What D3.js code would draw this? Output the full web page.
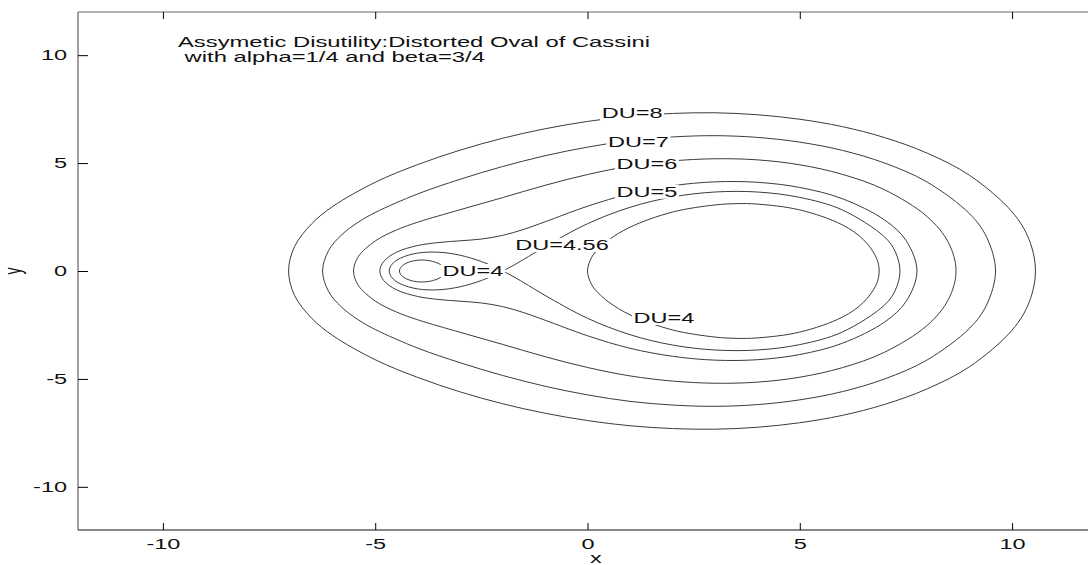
<!DOCTYPE html>
<html>
<head>
<meta charset="utf-8">
<script src="https://cdn.jsdelivr.net/npm/d3@7"></script>
<style>
    body { margin: 0; background: #fff; }
    svg text { font-family: "Liberation Sans", Arial, Helvetica, sans-serif; font-size: 14px; fill: #111; }
</style>
</head>
<body>
<svg id="chart" width="1088" height="565"></svg>
<script>
// contour points, [x, y], each loop closed
const du8 = [[-7.04, 0], [-6.9, 1.13], [-6.5, 2.18], [-6, 2.99], [-5, 4.11], [-4, 4.93], [-3, 5.6], [-2, 6.15], [-1, 6.59],
    [0, 6.93], [1, 7.17], [2, 7.3], [3, 7.33], [4, 7.24], [5, 7.03], [6, 6.69], [7, 6.18], [8, 5.46], [9, 4.43], [10, 2.74],
    [10.4, 1.46], [10.55, 0], [10.4, -1.46], [10, -2.74], [9, -4.43], [8, -5.46], [7, -6.18], [6, -6.69], [5, -7.03],
    [4, -7.24], [3, -7.33], [2, -7.3], [1, -7.17], [0, -6.93], [-1, -6.59], [-2, -6.15], [-3, -5.6], [-4, -4.93],
    [-5, -4.11], [-6, -2.99], [-6.5, -2.18], [-6.9, -1.13]];

const du7 = [[-6.24, 0], [-6.1, 0.94], [-5.8, 1.66], [-5.4, 2.26], [-5, 2.71], [-4, 3.57], [-3, 4.25], [-2, 4.84], [-1, 5.34],
    [0, 5.74], [1, 6.04], [2, 6.21], [3, 6.27], [4, 6.19], [5, 5.97], [6, 5.59], [7, 5.0], [8, 4.12], [9, 2.65], [9.4, 1.57],
    [9.61, 0], [9.4, -1.57], [9, -2.65], [8, -4.12], [7, -5.0], [6, -5.59], [5, -5.97], [4, -6.19], [3, -6.27], [2, -6.21],
    [1, -6.04], [0, -5.74], [-1, -5.34], [-2, -4.84], [-3, -4.25], [-4, -3.57], [-5, -2.71], [-5.4, -2.26], [-5.8, -1.66],
    [-6.1, -0.94]];

const du6 = [[-5.51, 0], [-5.4, 0.66], [-5, 1.39], [-4.5, 1.9], [-4, 2.26], [-3, 2.84], [-2, 3.4], [-1, 3.97], [0, 4.47],
    [1, 4.86], [2, 5.1], [3, 5.2], [4, 5.15], [5, 4.92], [6, 4.48], [7, 3.76], [8, 2.52], [8.5, 1.32], [8.68, 0],
    [8.5, -1.32], [8, -2.52], [7, -3.76], [6, -4.48], [5, -4.92], [4, -5.15], [3, -5.2], [2, -5.1], [1, -4.86], [0, -4.47],
    [-1, -3.97], [-2, -3.4], [-3, -2.84], [-4, -2.26], [-4.5, -1.9], [-5, -1.39], [-5.4, -0.66]];

const du5 = [[-4.89, 0], [-4.8, 0.44], [-4.5, 0.87], [-4, 1.18], [-3.5, 1.32], [-3, 1.4], [-2.5, 1.48], [-2, 1.65],
    [-1.5, 1.93], [-1, 2.28], [0, 3.0], [1, 3.58], [2, 3.95], [3, 4.13], [4, 4.11], [5, 3.87], [6, 3.35], [7, 2.36],
    [7.5, 1.42], [7.76, 0], [7.5, -1.42], [7, -2.36], [6, -3.35], [5, -3.87], [4, -4.11], [3, -4.13], [2, -3.95],
    [1, -3.58], [0, -3.0], [-1, -2.28], [-1.5, -1.93], [-2, -1.65], [-2.5, -1.48], [-3, -1.4], [-3.5, -1.32], [-4, -1.18],
    [-4.5, -0.87], [-4.8, -0.44]];

// figure eight through the saddle at (-2, 0)
const du456 = [[-2, 0], [-2.2, 0.19], [-2.5, 0.44], [-3, 0.73], [-3.5, 0.87], [-4, 0.83], [-4.4, 0.6], [-4.6, 0.32],
    [-4.67, 0], [-4.6, -0.32], [-4.4, -0.6], [-4, -0.83], [-3.5, -0.87], [-3, -0.73], [-2.5, -0.44], [-2.2, -0.19],
    [-2, 0], [-1.8, 0.2], [-1.5, 0.54], [-1, 1.13], [0, 2.19], [1, 2.95], [2, 3.43], [3, 3.66], [4, 3.66], [5, 3.41],
    [6, 2.83], [7, 1.57], [7.25, 0.89], [7.36, 0], [7.25, -0.89], [7, -1.57], [6, -2.83], [5, -3.41], [4, -3.66],
    [3, -3.66], [2, -3.43], [1, -2.95], [0, -2.19], [-1, -1.13], [-1.5, -0.54], [-1.8, -0.2]];

const du4Big = [[0, 0], [0.1, 0.64], [0.25, 1.01], [0.5, 1.44], [1, 2.03], [2, 2.73], [3, 3.06], [3.5, 3.12], [4, 3.1],
    [5, 2.83], [6, 2.14], [6.5, 1.45], [6.8, 0.63], [6.87, 0], [6.8, -0.63], [6.5, -1.45], [6, -2.14], [5, -2.83],
    [4, -3.1], [3.5, -3.12], [3, -3.06], [2, -2.73], [1, -2.03], [0.5, -1.44], [0.25, -1.01], [0.1, -0.64]];

const du4Small = [[-4.43, 0], [-4.4, 0.16], [-4.3, 0.33], [-4.1, 0.47], [-3.9, 0.51], [-3.7, 0.47], [-3.5, 0.34],
    [-3.4, 0.2], [-3.36, 0], [-3.4, -0.2], [-3.5, -0.34], [-3.7, -0.47], [-3.9, -0.51], [-4.1, -0.47], [-4.3, -0.33],
    [-4.4, -0.16]];

const contours = [du8, du7, du6, du5, du456, du4Big, du4Small];

const labelText = ['DU=8', 'DU=7', 'DU=6', 'DU=5', 'DU=4.56', 'DU=4', 'DU=4'];
const labelX = [1.05, 1.2, 1.4, 1.4, -0.6, -2.7, 1.8];
const labelY = [7.3, 6.0, 4.95, 3.67, 1.2, 0.0, -2.18];

const xTicks = [-10, -5, 0, 5, 10];
const yTicks = [-10, -5, 0, 5, 10];
const titleLines = ['Assymetic Disutility:Distorted Oval of Cassini', ' with alpha=1/4 and beta=3/4'];

/***************************************************************************
 * Chart
 **************************************************************************/

const sx = 1.68; // the scanned figure is stretched sideways, text too

const svg = d3.select('#chart');

const x = d3.scaleLinear().domain([-12, 12]).range([78, 1097]);
const y = d3.scaleLinear().domain([-12, 12]).range([530, 12]);

const line = d3.line()
    .curve(d3.curveCatmullRomClosed.alpha(0.5))
    .x((d) => { return x(d[0]) })
    .y((d) => { return y(d[1]) });

svg.append('g')
    .selectAll('path')
    .data(contours)
    .enter()
.append('path')
    .attr('d', (d) => { return line(d) })
    .attr('fill', 'none')
    .attr('stroke', '#3c3c3c')
    .attr('stroke-width', 1);

// inline labels break the lines
const labels = svg.append('g')
    .selectAll('g')
    .data(labelText.map((t, i) => { return {text: t, x: labelX[i], y: labelY[i]} }))
    .enter()
.append('g')
    .attr('transform', (d) => {
        return 'translate(' + x(d.x) + ',' + y(d.y) + ') scale(' + sx + ',1)';
    });

labels.append('text')
    .attr('text-anchor', 'middle')
    .attr('dy', '0.36em')
    .text((d) => { return d.text });

labels.insert('rect', 'text')
    .each(function () {
        const b = this.parentNode.querySelector('text').getBBox();
        d3.select(this)
            .attr('x', b.x - 1)
            .attr('y', b.y + 1)
            .attr('width', b.width + 2)
            .attr('height', b.height - 2)
            .attr('fill', '#fff');
    });

// frame: left and bottom dark, top lighter as in the print
svg.append('line')
    .attr('x1', x(-12)).attr('x2', x(12))
    .attr('y1', y(12)).attr('y2', y(12))
    .attr('stroke', '#666');

svg.append('line')
    .attr('x1', x(-12)).attr('x2', x(-12))
    .attr('y1', y(12)).attr('y2', y(-12))
    .attr('stroke', '#444');

svg.append('line')
    .attr('x1', x(-12)).attr('x2', x(12))
    .attr('y1', y(-12)).attr('y2', y(-12))
    .attr('stroke', '#111');

const xAxis = d3.axisBottom(x)
    .tickValues(xTicks)
    .tickFormat((d) => { return String(d) })
    .tickSizeInner(-7)
    .tickSizeOuter(0)
    .tickPadding(9);

svg.append('g')
    .attr('transform', 'translate(0,' + y(-12) + ')')
    .call(xAxis)
    .call((g) => { g.select('.domain').remove() })
    .call((g) => { g.selectAll('text').attr('transform', 'scale(' + sx + ',1)') });

svg.append('g')
    .attr('transform', 'translate(0,' + y(12) + ')')
    .call(d3.axisTop(x).tickValues(xTicks).tickSizeInner(-7).tickSizeOuter(0).tickFormat(''))
    .call((g) => { g.select('.domain').remove() });

const yAxis = d3.axisLeft(y)
    .tickValues(yTicks)
    .tickFormat((d) => { return String(d) })
    .tickSizeInner(-10)
    .tickSizeOuter(0)
    .tickPadding(6.5);

svg.append('g')
    .attr('transform', 'translate(' + x(-12) + ',0)')
    .call(yAxis)
    .call((g) => { g.select('.domain').remove() })
    .call((g) => { g.selectAll('text').attr('transform', 'scale(' + sx + ',1)') });

// title inside the axes
svg.append('g')
    .selectAll('text')
    .data(titleLines)
    .enter()
.append('text')
    .attr('transform', (d, i) => { return 'translate(178,' + (47 + i * 15) + ') scale(1.7,1)' })
    .style('white-space', 'pre')
    .text((d) => { return d });

svg.append('text')
    .attr('transform', 'translate(' + x(0.2) + ',563) scale(' + sx + ',1)')
    .attr('text-anchor', 'middle')
    .text('x');

svg.append('text')
    .attr('transform', 'translate(21,' + y(0) + ') rotate(-90) scale(1,' + sx + ')')
    .attr('text-anchor', 'middle')
    .text('y');
</script>
</body>
</html>
